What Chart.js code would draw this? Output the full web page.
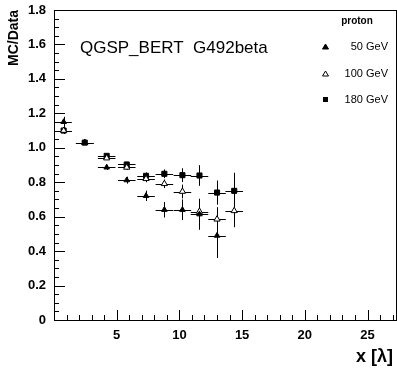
<!DOCTYPE html>
<html>
<head>
<meta charset="utf-8">
<script src="https://cdn.jsdelivr.net/npm/chart.js@4"></script>
<style>
  html, body { margin: 0; padding: 0; background: #fff; }
  #wrap { width: 397px; height: 370px; }
</style>
</head>
<body>
<div id="wrap"><canvas id="chart" width="397" height="370"></canvas></div>
<script>
// depth bins (x in lambda) and half widths
const xBins = [0.77, 2.45, 4.2, 5.8, 7.34, 8.8, 10.24, 11.6, 13.0, 14.37];
const xHalf = [0.65, 0.7, 0.7, 0.7, 0.7, 0.7, 0.7, 0.7, 0.7, 0.7];

const p50 = [1.15, 1.03, 0.886, 0.812, 0.721, 0.64, 0.64, 0.614, 0.49];
const p50Err = [0.03, 0.012, 0.015, 0.02, 0.03, 0.045, 0.06, 0.09, 0.13];
const p100 = [1.10, 1.03, 0.94, 0.886, 0.82, 0.791, 0.746, 0.63, 0.585, 0.634];
const p100Err = [0.02, 0.01, 0.01, 0.015, 0.02, 0.025, 0.04, 0.06, 0.07, 0.095];
const p180 = [1.10, 1.03, 0.953, 0.903, 0.837, 0.849, 0.841, 0.839, 0.74, 0.75];
const p180Err = [0.02, 0.01, 0.01, 0.015, 0.02, 0.025, 0.04, 0.06, 0.07, 0.105];

const xTicks = [5, 10, 15, 20, 25];
const seriesLabels = ["50 GeV", "100 GeV", "180 GeV"];
const legendTitle = "proton";
const plotTitle = "QGSP_BERT  G492beta";

function pts(vals, errs) {
  return vals.map((v, i) => ({ x: xBins[i], y: v, ex: xHalf[i], ey: errs[i] }));
}

const FONT = "'Liberation Sans', Arial, Helvetica, sans-serif";

const errorBars = {
  id: "errorBars",
  beforeDatasetsDraw(chart) {
    const c = chart.ctx, xs = chart.scales.x, ys = chart.scales.y;
    c.save();
    c.strokeStyle = "#000";
    c.lineWidth = 1;
    chart.data.datasets.forEach(ds => {
      ds.data.forEach(p => {
        const px = Math.round(xs.getPixelForValue(p.x)) + 0.5;
        const py = Math.round(ys.getPixelForValue(p.y)) + 0.5;
        c.beginPath();
        c.moveTo(xs.getPixelForValue(p.x - p.ex), py);
        c.lineTo(xs.getPixelForValue(p.x + p.ex), py);
        c.moveTo(px, ys.getPixelForValue(p.y - p.ey));
        c.lineTo(px, ys.getPixelForValue(p.y + p.ey));
        c.stroke();
      });
    });
    c.restore();
  }
};

const frame = {
  id: "frame",
  afterDraw(chart) {
    const c = chart.ctx, a = chart.chartArea, xs = chart.scales.x, ys = chart.scales.y;
    c.save();
    c.strokeStyle = "#000";
    c.lineWidth = 1;
    c.strokeRect(Math.round(a.left) + 0.5, Math.round(a.top) + 0.5,
      Math.round(a.right - a.left) - 1, Math.round(a.bottom - a.top));
    // inward ticks, ROOT style
    c.beginPath();
    for (let v = 0; v <= 1.8001; v += 0.05) {
      const y = Math.round(ys.getPixelForValue(v)) + 0.5;
      const major = Math.abs(v / 0.2 - Math.round(v / 0.2)) < 1e-6;
      c.moveTo(a.left, y);
      c.lineTo(a.left + (major ? 11 : 5), y);
    }
    for (let v = 1; v <= xs.max; v += 1) {
      const x = Math.round(xs.getPixelForValue(v)) + 0.5;
      c.moveTo(x, a.bottom);
      c.lineTo(x, a.bottom - (v % 5 === 0 ? 10 : 5));
    }
    c.stroke();

    c.fillStyle = "#000";
    c.font = "17px " + FONT;
    c.textBaseline = "middle";
    c.textAlign = "left";
    c.fillText(plotTitle, 80, 48);

    c.font = "bold 10px " + FONT;
    c.textAlign = "center";
    c.fillText(legendTitle, 357, 21);
    const rows = [47, 74, 100];
    c.font = "11px " + FONT;
    c.textAlign = "right";
    chart.data.datasets.forEach((ds, i) => {
      const y = rows[i];
      c.fillText(ds.label, 388, y);
      c.lineWidth = 1;
      c.strokeStyle = "#000";
      c.fillStyle = ds.pointBackgroundColor;
      if (ds.pointStyle === "rect") {
        c.fillStyle = "#000";
        c.fillRect(323, y - 3, 5, 5);
      } else {
        c.beginPath();
        c.moveTo(325.5, y - 3);
        c.lineTo(328.5, y + 2);
        c.lineTo(322.5, y + 2);
        c.closePath();
        c.fill();
        c.stroke();
      }
      c.fillStyle = "#000";
    });

    c.font = "bold 18px " + FONT;
    c.textAlign = "right";
    c.fillText("x [\u03bb]", 393, 357);
    c.restore();
  }
};

new Chart(document.getElementById("chart"), {
  type: "scatter",
  data: {
    datasets: [
      { label: seriesLabels[0], data: pts(p50, p50Err), pointStyle: "triangle",
        pointRadius: 3.2, pointBackgroundColor: "#000", pointBorderColor: "#000", pointBorderWidth: 1 },
      { label: seriesLabels[1], data: pts(p100, p100Err), pointStyle: "triangle",
        pointRadius: 3.6, pointBackgroundColor: "#fff", pointBorderColor: "#000", pointBorderWidth: 1 },
      { label: seriesLabels[2], data: pts(p180, p180Err), pointStyle: "rect",
        pointRadius: 3.6, pointBackgroundColor: "#000", pointBorderColor: "#000", pointBorderWidth: 1 }
    ]
  },
  options: {
    responsive: false,
    animation: false,
    events: [],
    layout: { autoPadding: false, padding: { top: 10, right: 0, left: 0, bottom: 0 } },
    plugins: { legend: { display: false }, tooltip: { enabled: false } },
    scales: {
      x: {
        type: "linear", min: 0, max: 27.35,
        afterBuildTicks(s) { s.ticks = xTicks.map(v => ({ value: v })); },
        afterFit(s) { s.height = 50; s.paddingRight = 0; s.paddingLeft = 0; },
        grid: { display: false, drawTicks: false },
        border: { display: false },
        ticks: {
          color: "#000", padding: 8,
          font: { family: FONT, size: 13, weight: "bold" }
        }
      },
      y: {
        min: 0, max: 1.8,
        afterFit(s) { s.width = 54; s.paddingTop = 0; s.paddingBottom = 0; },
        grid: { display: false, drawTicks: false },
        border: { display: false },
        title: {
          display: true, text: "MC/Data", align: "end", color: "#000",
          font: { family: FONT, size: 14, weight: "bold" }, padding: { top: 6, bottom: 0 }
        },
        ticks: {
          stepSize: 0.2, color: "#000", padding: 8,
          font: { family: FONT, size: 13, weight: "bold" }
        }
      }
    }
  },
  plugins: [errorBars, frame]
});
</script>
</body>
</html>
